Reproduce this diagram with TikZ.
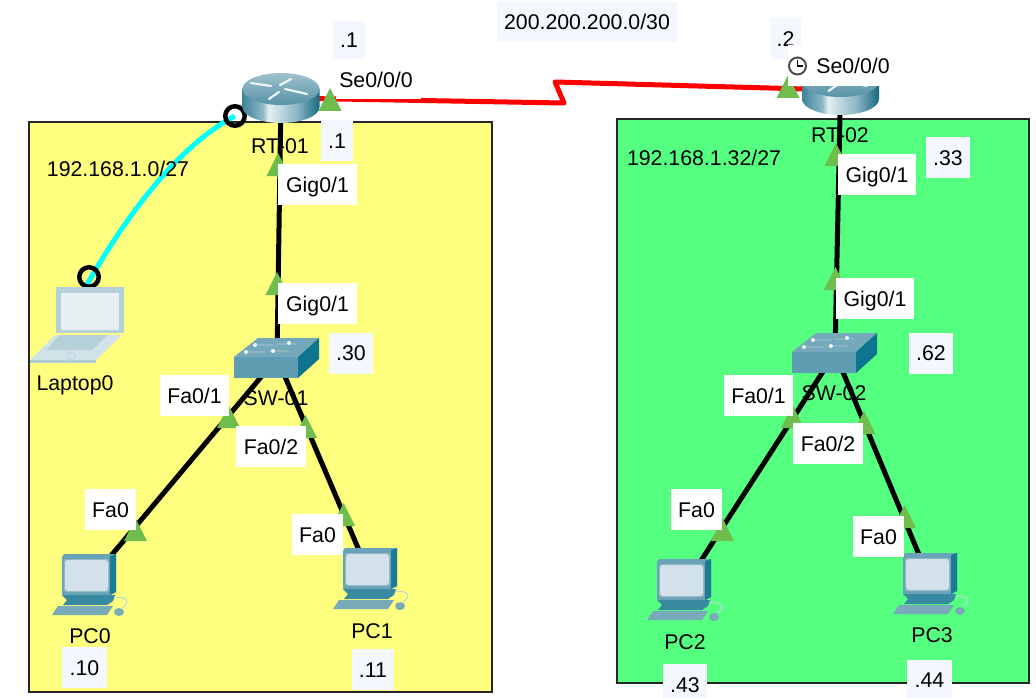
\documentclass[tikz,border=0pt]{standalone}
\usepackage{fontspec}
\setmainfont{Liberation Sans}
\definecolor{zoneY}{HTML}{FFFF7F}
\definecolor{zoneG}{HTML}{55FF80}
\definecolor{tint}{HTML}{F5F7FE}
\definecolor{porttri}{HTML}{6FBD4C}
\definecolor{linkcyan}{HTML}{00FFFF}
\definecolor{HTML2}{HTML}{3F8398}
\definecolor{HTML3}{HTML}{8DB7C5}
\definecolor{HTML4}{HTML}{E4EFF2}
\definecolor{HTML5}{HTML}{16697F}
\definecolor{swTop}{HTML}{74A9BB}
\definecolor{swFront}{HTML}{5F9DB3}
\definecolor{swSide}{HTML}{0E7590}
\definecolor{pcFrame}{HTML}{6AA3B8}
\definecolor{pcScreen}{HTML}{D3E2EA}
\pgfdeclarehorizontalshading{routerside}{100bp}{
  color(0bp)=(HTML2); color(25bp)=(HTML2); color(38bp)=(HTML3); color(42bp)=(HTML4);
  color(60bp)=(HTML3); color(75bp)=(HTML5); color(100bp)=(HTML5)}
\tikzset{
  x=1pt,y=-1pt,
  zone/.style={draw=black!85,line width=1.4pt},
  link/.style={line width=5pt,black},
  serial/.style={line width=5pt,red,line join=round},
  wifi/.style={line width=5pt,linkcyan},
  dot/.style={circle,draw=black,line width=4.5pt,minimum size=19.5pt,inner sep=0pt},
  txt/.style={font=\fontsize{21.3}{24}\selectfont,text height=15.2pt,text depth=0pt,inner sep=0pt},
  wlab/.style={txt,fill=white},
  tlab/.style={txt,fill=tint},
  size/.style 2 args={minimum width=#1 pt,minimum height=#2 pt},
  routericon/.pic={
    \shade[shading=routerside] (-38.5,-9) -- (-38.5,9) .. controls (-38.5,18) and (-21,25) .. (0,25)
      .. controls (21,25) and (38.5,18) .. (38.5,9) -- (38.5,-9) -- cycle;
    \shade[top color=HTML3!85!white,bottom color=HTML2!70!HTML3] (0,-9) ellipse [x radius=38.5pt,y radius=16pt];
    \draw[line width=2.2pt,white!85!HTML3,line cap=round] (-30,-15) -- (-10,-12);
    \draw[line width=2.2pt,white!85!HTML3,line cap=round] (-1,-13) -- (10,-19);
    \draw[line width=2.2pt,white!85!HTML3,line cap=round] (4,-9) -- (26,-4);
    \draw[line width=2.2pt,white!85!HTML3,line cap=round] (-12,1) -- (-2,-6);
  },
  switchicon/.pic={
    \fill[swTop] (-43,-1) -- (21,-1) -- (42,-20) -- (-19,-20) -- cycle;
    \fill[swFront] (-43,-1) rectangle (21,20);
    \fill[swSide] (21,-1) -- (42,-20) -- (42,1) -- (21,20) -- cycle;
    \foreach \a/\b in {-24/-13,-1/-14,-31/-6,-8/-7}{
      \draw[line width=1.5pt,HTML3!80!swTop] (\a,\b) -- ++(20,0);
    }
    \foreach \a/\b in {-22/-13,12/-15,-31/-6,-4/-7}{
      \fill[white!90!swTop] (\a,\b) circle (2pt);
    }
  },
  pcicon/.pic={
    \fill[pcFrame] (-27,-25) -- (-25,-28) -- (27,-28) -- (27,10) -- (21,13) -- (-27,13) -- cycle;
    \fill[swSide!85!pcFrame] (21,-26) -- (27,-28) -- (27,10) -- (21,13) -- cycle;
    \fill[HTML3,rounded corners=2pt] (-25,-23) rectangle (20,10);
    \fill[pcScreen,rounded corners=3pt] (-24,-22) rectangle (19,9);
    \fill[swSide!55!pcFrame] (-27,13) -- (26,13) -- (24,19) -- (18,23) -- (-26,23) -- (-22,18) -- cycle;
    \fill[HTML3!75!HTML2] (-37,33) -- (18,33) -- (24,24) -- (-31,24) -- cycle;
    \fill[HTML3!75!HTML2] (30,30) ellipse [x radius=5pt,y radius=4pt];
    \draw[line width=1pt,HTML3!60!white] (26,15) .. controls (38,15) and (42,20) .. (33,26);
  },
  laptopicon/.pic={
    \fill[HTML3!65!white] (-34,-33) -- (34,-33) -- (34,13) -- (-34,13) -- cycle;
    \fill[HTML4!90!white] (-29,-27) rectangle (29,10);
    \fill[HTML3!40!white] (-60,40) -- (6,40) -- (32,15) -- (-35,15) -- cycle;
    \fill[HTML3!70!white] (-60,40) -- (6,40) -- (6,43) -- (-60,43) -- cycle;
    \fill[HTML3!65!white] (-44,30) -- (2,30) -- (18,15) -- (-30,15) -- cycle;
    \draw[line width=1pt,HTML3!55!white] (-19,36) circle (4pt);
  },
  porticon/.pic={\fill[porttri] (0,0) -- (-11.5,23) -- (11.5,23) -- cycle;},
}
\begin{document}
\begin{tikzpicture}
\useasboundingbox (0,0) rectangle (1036,698);
% zones
\path[zone,fill=zoneY] (29,122) rectangle (492,692);
\path[zone,fill=zoneG] (617,119) rectangle (1029,683);
% device centres
\coordinate (rt1) at (281,98);
\coordinate (rt2) at (840.5,90);
\coordinate (sw1) at (277,358);
\coordinate (sw2) at (835,353);
\coordinate (pc0) at (89,582);
\coordinate (pc1) at (370,576);
\coordinate (pc2) at (684,587);
\coordinate (pc3) at (930,581);
\coordinate (lap) at (90,320);
\coordinate (lapend) at (85,288);
\coordinate (zigA) at (564,103);
\coordinate (zigB) at (555,82);
\coordinate (wifiR) at (235,116);
\coordinate (wifiL) at (89,277);
% links
\draw[serial] (rt1) -- (zigA) -- (zigB) -- (rt2);
\draw[link] (rt1) -- (sw1);
\draw[link] (sw1) -- (pc0);
\draw[link] (sw1) -- (pc1);
\draw[link] (rt2) -- (sw2);
\draw[link] (sw2) -- (pc2);
\draw[link] (sw2) -- (pc3);
\draw[wifi] (wifiR) .. controls (170,150) and (115,235) .. (lapend);
\node[dot] (dotR) at (wifiR) {};
\node[dot] (dotL) at (wifiL) {};
% icons
\pic at (rt1) {routericon};
\pic at (rt2) {routericon};
\pic at (sw1) {switchicon};
\pic at (sw2) {switchicon};
\pic at (pc0) {pcicon};
\pic at (pc1) {pcicon};
\pic at (pc2) {pcicon};
\pic at (pc3) {pcicon};
\pic at (lap) {laptopicon};
% port triangles
\foreach \px/\py in {330/88,278/153,277/272,228.5/405,305.5/415,135.5/518,343.5/503,
                     788/75,836/143,835.5/267,792.5/405,864/411,722.5/518,904.5/505}{
  \pic at (\px,\py) {porticon};
}
% names
\node[txt] (nRT1) at (280,146) {RT-01};
\node[txt] (nRT2) at (840,135) {RT-02};
\node[txt] (nSW1) at (276,398) {SW-01};
\node[txt] (nSW2) at (834,393) {SW-02};
\node[txt] (nLap) at (75,383) {Laptop0};
\node[txt] (nPC0) at (90,636) {PC0};
\node[txt] (nPC1) at (372,631) {PC1};
\node[txt] (nPC2) at (685,642) {PC2};
\node[txt] (nPC3) at (932,635) {PC3};
\node[txt] (net1) at (118,169) {192.168.1.0/27};
\node[txt] (net2) at (704,158) {192.168.1.32/27};
% tinted labels
\node[tlab,size={180}{40}] (wan) at (587,22) {200.200.200.0/30};
\node[tlab,size={32}{38}] (a1) at (349,40) {.1};
\node[tlab,size={32}{41}] (a2) at (337,140.5) {.1};
\node[tlab,size={44}{41}] (a3) at (351,353) {.30};
\node[tlab,size={45}{41}] (a4) at (84.5,667.5) {.10};
\node[tlab,size={42}{41}] (a5) at (373,669.5) {.11};
\node[tlab,size={31}{41}] (a6) at (785.5,38.5) {.2};
\node[tlab,size={44}{41}] (a7) at (948,157.5) {.33};
\node[tlab,size={44}{41}] (a8) at (931,353) {.62};
\node[tlab,size={44}{42}] (a9) at (685,685) {.43};
\node[tlab,size={45}{41}] (a10) at (929.5,680) {.44};
% white labels
\node[fill=white,inner sep=0pt,size={85}{39}] (s1box) at (378.5,79.5) {};
\node[txt] (s1) at (376,80) {Se0/0/0};
\node[wlab,size={79}{41}] (g1) at (317.5,184.5) {Gig0/1};
\node[wlab,size={79}{41}] (g2) at (317.5,303.5) {Gig0/1};
\node[wlab,size={69}{41}] (f1) at (194.5,395.5) {Fa0/1};
\node[wlab,size={70}{41}] (f2) at (271,446.5) {Fa0/2};
\node[wlab,size={51}{41}] (f3) at (110.5,509.5) {Fa0};
\node[wlab,size={51}{41}] (f4) at (317.5,534.5) {Fa0};
\node[fill=white,inner sep=0pt,size={107}{41}] (s2box) at (841.5,65.5) {};
\node[txt] (s2) at (853,66) {Se0/0/0};
\node[wlab,size={78}{41}] (g3) at (877,174.5) {Gig0/1};
\node[wlab,size={78}{41}] (g4) at (875,298.5) {Gig0/1};
\node[wlab,size={69}{41}] (f5) at (758.5,395.5) {Fa0/1};
\node[wlab,size={70}{41}] (f6) at (828,443.5) {Fa0/2};
\node[wlab,size={51}{41}] (f7) at (696.5,509.5) {Fa0};
\node[wlab,size={51}{41}] (f8) at (878.5,536.5) {Fa0};
% clock
\node[circle,draw=black!70,fill=white,line width=2pt,minimum size=17pt,inner sep=0pt] (clk) at (797.5,66) {};
\draw[line width=1.2pt] (797.5,60) -- (clk.center) -- (803,66);
\end{tikzpicture}
\end{document}
